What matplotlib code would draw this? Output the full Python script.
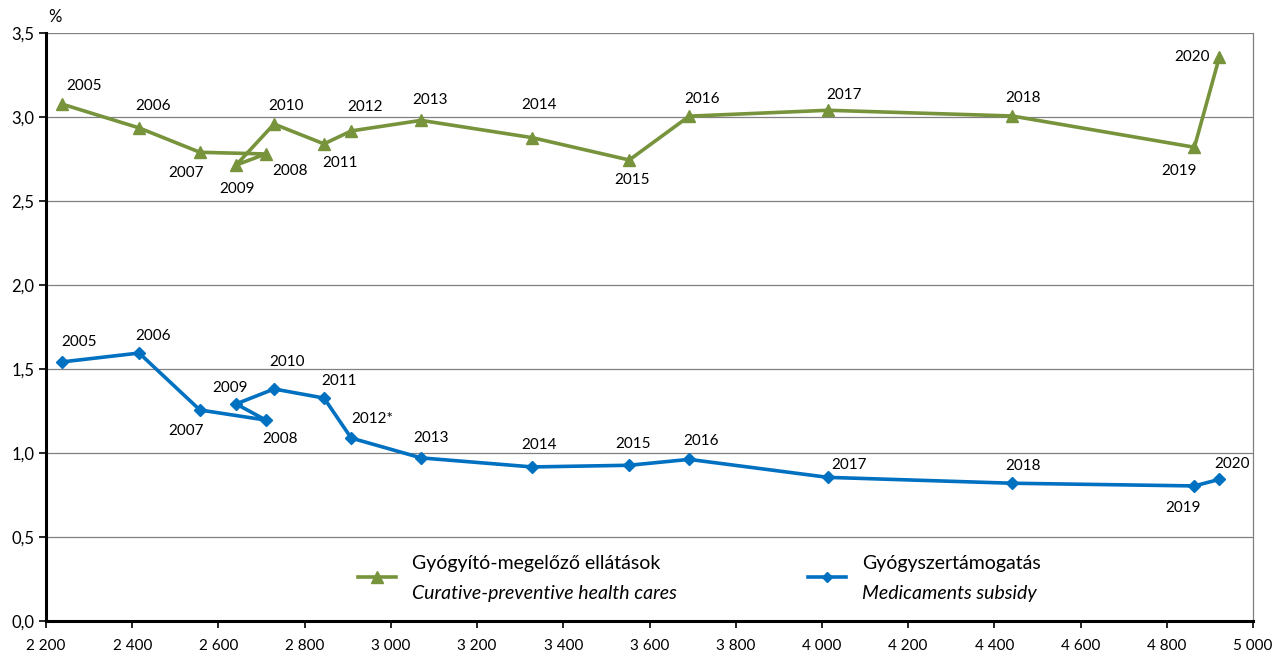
import matplotlib
matplotlib.use("Agg")
import matplotlib.pyplot as plt
from matplotlib.lines import Line2D
from matplotlib.ticker import FuncFormatter, MultipleLocator

plt.rcParams['font.family'] = ['Lato', 'DejaVu Sans']

# ---- data ----
years = ['2005', '2006', '2007', '2008', '2009', '2010', '2011', '2012', '2013',
         '2014', '2015', '2016', '2017', '2018', '2019', '2020']
blue_years = ['2005', '2006', '2007', '2008', '2009', '2010', '2011', '2012*', '2013',
              '2014', '2015', '2016', '2017', '2018', '2019', '2020']
x_vals = [2237, 2416, 2557, 2710, 2641, 2729, 2845, 2908, 3070,
          3328, 3553, 3692, 4014, 4441, 4864, 4922]
curative = [3.077, 2.935, 2.79, 2.78, 2.714, 2.958, 2.84, 2.917, 2.98,
            2.877, 2.744, 3.005, 3.04, 3.006, 2.82, 3.357]
medicaments = [1.542, 1.595, 1.256, 1.196, 1.292, 1.381, 1.327, 1.089, 0.971,
               0.917, 0.927, 0.962, 0.855, 0.82, 0.804, 0.843]
series_names = [('Gyógyító-megelőző ellátások', 'Curative-preventive health cares'),
                ('Gyógyszertámogatás', 'Medicaments subsidy')]

# label offsets in pixels (styling)
green_off = [(22, 18), (14, 22), (-14, -21), (24, -17), (1, -24), (12, 18), (16, -19),
             (14, 24), (9, 20), (7, 33), (3, -20), (13, 17), (16, 15), (11, 18),
             (-15, -24), (-27, 0)]
blue_off = [(17, 20), (14, 17), (-14, -21), (14, -19), (-6, 16), (13, 27), (15, 17),
            (21, 19), (10, 20), (7, 22), (4, 21), (12, 18), (21, 12), (11, 17),
            (-11, -22), (13, 15)]

GREEN = '#77933C'
BLUE = '#0070C0'

fig = plt.figure(figsize=(12.83, 6.57), dpi=100)
ax = fig.add_axes([46 / 1283, 36 / 657, (1253 - 46) / 1283, (621 - 33) / 657])

ax.set_xlim(2200, 5000)
ax.set_ylim(0, 3.5)

ax.plot(x_vals, curative, color=GREEN, lw=2.6, marker='^', ms=9, zorder=3)
ax.plot(x_vals, medicaments, color=BLUE, lw=2.6, marker='D', ms=6, zorder=3)

for xv, yv, lab, off in zip(x_vals, curative, years, green_off):
    ax.annotate(lab, (xv, yv), xytext=off, textcoords='offset pixels',
                ha='center', va='center', fontsize=11, color='#000000')
for xv, yv, lab, off in zip(x_vals, medicaments, blue_years, blue_off):
    ax.annotate(lab, (xv, yv), xytext=off, textcoords='offset pixels',
                ha='center', va='center', fontsize=11, color='#000000')

ax.yaxis.set_major_locator(MultipleLocator(0.5))
ax.xaxis.set_major_locator(MultipleLocator(200))
ax.yaxis.set_major_formatter(FuncFormatter(lambda v, p: f"{v:.1f}".replace('.', ',')))
ax.xaxis.set_major_formatter(FuncFormatter(lambda v, p: f"{int(round(v)):,}".replace(',', ' ')))
ax.grid(axis='y', color='#808080', lw=0.9)
ax.set_axisbelow(True)

for s in ['left', 'bottom']:
    ax.spines[s].set_linewidth(2.2)
    ax.spines[s].set_color('black')
    ax.spines[s].set_zorder(4)
ax.spines['top'].set_visible(False)
ax.spines['right'].set_color('#808080')
ax.spines['right'].set_linewidth(0.9)

ax.tick_params(axis='both', direction='out', length=5, width=1.2, labelsize=11, colors='black')
ax.tick_params(axis='y', labelsize=12)
ax.tick_params(axis='x', pad=8)

fig.text(48 / 1283, 1 - 17 / 657, '%', fontsize=12, ha='left', va='center')

# legend drawn manually
legend_specs = [(GREEN, '^', 8, 358, 412), (BLUE, 'D', 5, 808, 862)]
for (col, mk, msz, lx, tx), (hu, en) in zip(legend_specs, series_names):
    yl = 1 - 577 / 657
    fig.add_artist(Line2D([lx / 1283, (lx + 38) / 1283], [yl, yl], color=col, lw=2.6,
                          transform=fig.transFigure))
    fig.add_artist(Line2D([(lx + 19) / 1283], [yl], color=col, marker=mk, ms=msz,
                          transform=fig.transFigure))
    fig.text(tx / 1283, 1 - 563 / 657, hu, fontsize=14, ha='left', va='center')
    fig.text(tx / 1283, 1 - 593 / 657, en, fontsize=14, ha='left', va='center',
             style='italic')

fig.savefig('out.png', dpi=100)
